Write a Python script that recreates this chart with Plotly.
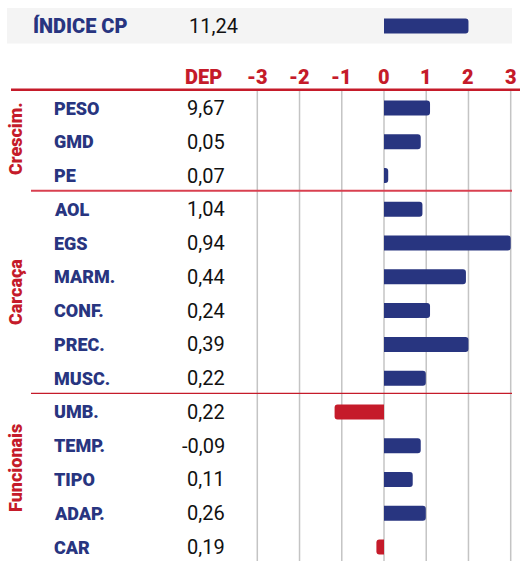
import plotly.graph_objects as go

# ---------------- data ----------------
index_label = "ÍNDICE CP"
index_dep = "11,24"
index_value = 2.0

groups = ["Crescim.", "Carcaça", "Funcionais"]
group_sizes = [3, 6, 5]

traits = ["PESO", "GMD", "PE", "AOL", "EGS", "MARM.", "CONF.", "PREC.", "MUSC.",
          "UMB.", "TEMP.", "TIPO", "ADAP.", "CAR"]
dep_text = ["9,67", "0,05", "0,07", "1,04", "0,94", "0,44", "0,24", "0,39", "0,22",
            "0,22", "-0,09", "0,11", "0,26", "0,19"]
bar_values = [1.09, 0.87, 0.10, 0.91, 3.00, 1.94, 1.09, 2.00, 0.99,
              -1.17, 0.87, 0.68, 0.99, -0.18]
tick_values = [-3, -2, -1, 0, 1, 2, 3]
tick_labels = ["-3", "-2", "-1", "0", "1", "2", "3"]

# ---------------- style ----------------
W, H = 520, 561
BLUE = "#283580"
RED = "#c51b2a"
GRID = "#c4c4c4"
FONT = "Roboto, 'DejaVu Sans Condensed', sans-serif"
HEAVY = 900

# pixel geometry of the scales
X_M3, X_P3 = 257.3, 510.7           # pixel of -3 and +3
ppu = (X_P3 - X_M3) / 6.0
x_range = [-3 - X_M3 / ppu, 3 + (W - X_P3) / ppu]
ROW0, ROWH = 108.0, 33.77            # pixel centre of first row and row pitch
y_range = [(H - ROW0) / ROWH, -ROW0 / ROWH]


def y_of_px(p):
    return (p - ROW0) / ROWH


def pxx(p):
    return p / W


def pxy(p):
    return 1 - p / H


n = len(traits)
rows = list(range(n))
colors = [BLUE if v >= 0 else RED for v in bar_values]
bar_w = 15 / ROWH
index_row = y_of_px(26)

fig = go.Figure()
fig.add_trace(go.Bar(x=bar_values, y=rows, orientation="h", width=bar_w,
                     marker=dict(color=colors, line=dict(width=0)),
                     hoverinfo="skip"))
fig.add_trace(go.Bar(x=[index_value], y=[index_row], orientation="h", width=bar_w,
                     marker=dict(color=BLUE, line=dict(width=0)), hoverinfo="skip"))

shapes = []
# grey band behind index row
shapes.append(dict(type="rect", xref="paper", yref="paper", x0=pxx(7), x1=pxx(512),
                   y0=pxy(43.5), y1=pxy(8), fillcolor="#f4f4f4", line=dict(width=0),
                   layer="below"))
# vertical grid lines
for t in tick_values:
    shapes.append(dict(type="line", xref="x", yref="paper", x0=t, x1=t,
                       y0=pxy(91), y1=0, line=dict(color=GRID, width=1.5), layer="below"))
# header red line
shapes.append(dict(type="line", xref="paper", yref="paper", x0=pxx(11), x1=1,
                   y0=pxy(89.7), y1=pxy(89.7), line=dict(color=RED, width=2.5)))
# group separators
start = 0
for gi, size in enumerate(group_sizes[:-1]):
    start += size
    yy = start - 0.5 - 0.05
    shapes.append(dict(type="line", xref="paper", yref="y", x0=pxx(31), x1=pxx(512),
                       y0=yy, y1=yy,
                       line=dict(color="#d94050" if gi == 0 else RED,
                                 width=2 if gi == 0 else 1.2)))

ann = []
# index row texts
ann.append(dict(text=index_label, xref="paper", yref="paper", x=pxx(31), y=pxy(26),
                xanchor="left", yanchor="middle", showarrow=False,
                font=dict(family=FONT, size=20, color=BLUE, weight=HEAVY)))
ann.append(dict(text=index_dep, xref="paper", yref="paper", x=pxx(240), y=pxy(26),
                xanchor="right", yanchor="middle", showarrow=False,
                font=dict(family=FONT, size=20, color="#111111")))
# header
ann.append(dict(text="DEP", xref="paper", yref="paper", x=pxx(224), y=pxy(77),
                xanchor="right", yanchor="middle", showarrow=False,
                font=dict(family=FONT, size=20, color=RED, weight=HEAVY)))
for t, lab in zip(tick_values, tick_labels):
    ann.append(dict(text=lab, xref="x", yref="paper", x=t, y=pxy(77),
                    xanchor="center", yanchor="middle", showarrow=False,
                    font=dict(family=FONT, size=20, color=RED, weight=HEAVY)))
# rows
for k, (lab, d) in enumerate(zip(traits, dep_text)):
    ann.append(dict(text=lab, xref="paper", yref="y", x=pxx(52), y=k,
                    xanchor="left", yanchor="middle", showarrow=False,
                    font=dict(family=FONT, size=18, color=BLUE, weight=HEAVY)))
    ann.append(dict(text=d, xref="paper", yref="y", x=pxx(227), y=k,
                    xanchor="right", yanchor="middle", showarrow=False,
                    font=dict(family=FONT, size=20, color="#111111")))
# group labels
centers_px = [139, 292, 468]
for g, c in zip(groups, centers_px):
    ann.append(dict(text=g, xref="paper", yref="paper", x=pxx(15), y=pxy(c),
                    xanchor="center", yanchor="middle", showarrow=False, textangle=-90,
                    font=dict(family=FONT, size=18, color=RED, weight=HEAVY)))

fig.update_layout(
    width=W, height=H, autosize=False,
    margin=dict(l=0, r=0, t=0, b=0, pad=0),
    paper_bgcolor="white", plot_bgcolor="white",
    showlegend=False, barcornerradius=3,
    xaxis=dict(range=x_range, visible=False, fixedrange=True),
    yaxis=dict(range=y_range, visible=False, fixedrange=True),
    shapes=shapes, annotations=ann,
)

fig.write_html("out.html", config={"displayModeBar": False},
               post_script="document.body.style.margin='0';")
